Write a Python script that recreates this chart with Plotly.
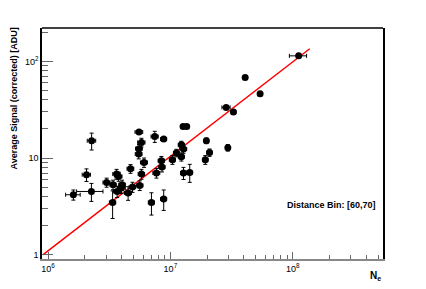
import plotly.graph_objects as go

# Data: number of electrons Ne vs average signal
ne = [2.27e6, 2.06e6, 1.61e6, 2.26e6, 3.01e6, 3.37e6, 3.40e6, 3.63e6, 3.77e6, 3.67e6,
      4.03e6, 3.98e6, 4.51e6, 4.72e6, 4.90e6, 5.54e6, 5.80e6, 5.54e6, 5.51e6, 6.09e6,
      5.62e6, 5.80e6, 7.45e6, 8.82e6, 7.00e6, 7.69e6, 8.44e6, 8.54e6, 8.82e6, 1.04e7,
      1.12e7, 1.23e7, 1.23e7, 1.28e7, 1.28e7, 1.44e7, 1.93e7, 1.97e7, 2.09e7, 1.27e7,
      1.36e7, 1.12e8, 4.09e7, 5.42e7, 2.86e7, 3.28e7, 2.95e7]
signal = [15.1, 6.72, 4.17, 4.51, 5.59, 3.47, 5.30, 6.83, 6.45, 4.51,
          5.30, 4.90, 4.35, 7.75, 5.01, 18.6, 14.5, 12.5, 11.0, 9.00,
          5.21, 6.83, 16.7, 15.7, 3.47, 7.0, 9.38, 8.07, 3.77, 9.60,
          11.3, 10.3, 13.7, 12.4, 7.0, 7.10, 9.60, 15.1, 11.4, 21.2,
          21.2, 114, 68.2, 46.2, 33.4, 29.9, 12.8]
ne_err = [0.18e6, 0.16e6, 0.22e6, 0.55e6, 0.2e6, 0.2e6, 0.2e6, 0.25e6, 0.25e6, 0.25e6,
          0.25e6, 0.3e6, 0.3e6, 0.3e6, 0.3e6, 0.4e6, 0.4e6, 0.35e6, 0.35e6, 0.4e6,
          0.35e6, 0.35e6, 0.5e6, 0.5e6, 0.4e6, 0.5e6, 0.5e6, 0.5e6, 0.5e6, 0.6e6,
          0.6e6, 0.7e6, 0.7e6, 0.8e6, 0.7e6, 0.8e6, 1.0e6, 0.8e6, 1.0e6, 0.6e6,
          0.6e6, 1.8e7, 1.5e6, 1.5e6, 2.2e6, 1.5e6, 1.0e6]
signal_err = [3.0, 1.0, 0.5, 0.95, 0.6, 1.1, 0.6, 0.8, 0.7, 0.6,
              0.6, 0.6, 0.7, 0.8, 0.6, 1.0, 1.5, 1.3, 1.2, 1.0,
              0.6, 0.8, 2.2, 0.6, 0.9, 0.8, 1.0, 0.9, 0.9, 1.0,
              1.0, 1.0, 1.2, 1.2, 1.0, 1.5, 1.0, 1.0, 1.0, 1.0,
              1.0, 5.0, 3.0, 2.0, 1.5, 1.5, 1.0]

# Fit line endpoints
fit_x = [9.1e5, 1.38e8]
fit_y = [1.0, 135.0]

x_major = [1e6, 1e7, 1e8]
x_major_text = ["10<sup>6</sup>", "10<sup>7</sup>", "10<sup>8</sup>"]
x_minor = [2e6, 3e6, 4e6, 5e6, 6e6, 7e6, 8e6, 9e6,
           2e7, 3e7, 4e7, 5e7, 6e7, 7e7, 8e7, 9e7,
           2e8, 3e8, 4e8, 5e8]
y_major = [1, 10, 100]
y_major_text = ["1", "10", "10<sup>2</sup>"]
y_minor = [2, 3, 4, 5, 6, 7, 8, 9, 20, 30, 40, 50, 60, 70, 80, 90, 200]

FONT = "Liberation Sans, Arial, Helvetica, sans-serif"

fig = go.Figure()
fig.add_trace(go.Scatter(
    x=fit_x, y=fit_y, mode="lines",
    line=dict(color="#ff0000", width=1.5), showlegend=False, hoverinfo="skip"))
fig.add_trace(go.Scatter(
    x=ne, y=signal, mode="markers",
    marker=dict(color="black", size=7),
    error_x=dict(type="data", array=ne_err, color="black", thickness=1, width=2),
    error_y=dict(type="data", array=signal_err, color="black", thickness=1, width=2),
    showlegend=False))

# page body has an 8px margin, so the figure is sized to fit the window
fig.update_layout(
    width=410, height=273,
    margin=dict(l=34, r=34.7, t=20.3, b=21.7),
    paper_bgcolor="white", plot_bgcolor="white",
    font=dict(family=FONT, size=9, color="black"),
    xaxis=dict(
        type="log", range=[5.95, 8.739],
        tickmode="array", tickvals=x_major, ticktext=x_major_text,
        ticks="inside", ticklen=7, tickcolor="#666", tickwidth=1,
        showline=True, linecolor="#888", linewidth=2, mirror=False,
        showgrid=False, zeroline=False, automargin=False,
        tickfont=dict(size=9),
        minor=dict(tickmode="array", tickvals=x_minor, ticks="inside",
                   ticklen=4, tickcolor="#666", showgrid=False),
    ),
    yaxis=dict(
        type="log", range=[-0.0445, 2.345],
        tickmode="array", tickvals=y_major, ticktext=y_major_text,
        ticks="inside", ticklen=11, tickcolor="#666", tickwidth=1,
        showline=True, linecolor="black", linewidth=1.5, mirror=True,
        showgrid=False, zeroline=False, automargin=False,
        tickfont=dict(size=9),
        minor=dict(tickmode="array", tickvals=y_minor, ticks="inside",
                   ticklen=6, tickcolor="#666", showgrid=False),
    ),
    shapes=[dict(type="line", xref="paper", yref="paper", x0=0, x1=1, y0=1, y1=1,
                 line=dict(color="black", width=1.5))],
    annotations=[
        dict(text="<b>Average Signal (corrected) [ADU]</b>", textangle=-90,
             xref="paper", yref="paper", x=-0.0835, y=0.693,
             xanchor="center", yanchor="middle", showarrow=False,
             font=dict(size=9, family=FONT)),
        dict(text="<b>N<sub>e</sub></b>", xref="paper", yref="paper",
             x=0.979, y=-0.072, xanchor="center", yanchor="middle",
             showarrow=False, font=dict(size=10, family=FONT)),
        dict(text="<b>Distance Bin: [60,70]</b>", xref="paper", yref="paper",
             x=0.985, y=0.232, xanchor="right", yanchor="middle",
             showarrow=False, font=dict(size=9, family=FONT)),
    ],
)

fig.write_html("out.html")
